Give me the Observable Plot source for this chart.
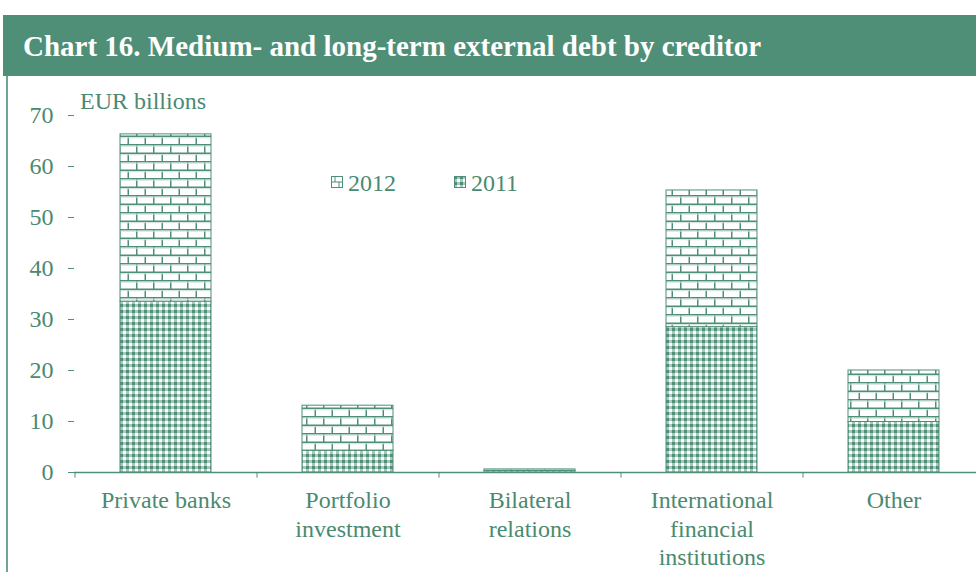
<!DOCTYPE html>
<html>
<head>
<meta charset="utf-8">
<script src="https://cdn.jsdelivr.net/npm/d3@7"></script>
<script src="https://cdn.jsdelivr.net/npm/@observablehq/plot@0.6"></script>
<style>
  html, body { margin: 0; padding: 0; background: #fff; font-family: 'Liberation Serif'; }
  #page { position: relative; width: 976px; height: 572px; overflow: hidden; font-family: 'Liberation Serif'; }
  #titlebar { position: absolute; left: 3px; top: 15px; width: 973px; height: 61px; background: #4f8f78; }
  #title { position: absolute; left: 20px; top: 0; line-height: 62px; color: #fff; font-weight: bold; font-size: 29px; white-space: nowrap; font-family: 'Liberation Serif'; }
  #border { position: absolute; left: 6px; top: 76px; width: 2px; height: 496px; background: #6fa591; }
  #unit { position: absolute; left: 80px; top: 89px; font-size: 24px; line-height: 24px; color: #4a8a70; font-family: 'Liberation Serif'; }
  #chart { position: absolute; left: 0; top: 76px; }
  .leg { position: absolute; font-size: 24px; line-height: 24px; color: #4a8a70; white-space: nowrap; font-family: 'Liberation Serif'; }
  .leg svg { position: absolute; left: 0; top: 5px; }
  .leg span { position: absolute; top: 0; }
</style>
</head>
<body>
<svg width="0" height="0" style="position:absolute">
  <defs>
    <pattern id="brick" patternUnits="userSpaceOnUse" width="17" height="17">
      <rect x="0" y="0" width="17" height="17" fill="#fff"/>
      <line x1="0" y1="0.75" x2="17" y2="0.75" stroke="#4f8f78" stroke-width="1.5"/>
      <line x1="0" y1="9.25" x2="17" y2="9.25" stroke="#4f8f78" stroke-width="1.5"/>
      <line x1="0.75" y1="0" x2="0.75" y2="9" stroke="#4f8f78" stroke-width="1.5"/>
      <line x1="9.25" y1="9" x2="9.25" y2="17" stroke="#4f8f78" stroke-width="1.5"/>
      <line x1="0" y1="2.2" x2="17" y2="2.2" stroke="#cfe2da" stroke-width="1"/>
      <line x1="0" y1="10.7" x2="17" y2="10.7" stroke="#cfe2da" stroke-width="1"/>
    </pattern>
    <pattern id="checker" patternUnits="userSpaceOnUse" width="6" height="6">
      <rect x="0" y="0" width="6" height="6" fill="#a6c9bb"/>
      <rect x="0" y="0" width="3" height="3" fill="#4f8f78"/>
      <rect x="3" y="3" width="3" height="3" fill="#fff"/>
    </pattern>
  </defs>
</svg>
<div id="page">
  <div id="titlebar"><div id="title">Chart 16. Medium- and long-term external debt by creditor</div></div>
  <div id="border"></div>
  <div id="unit">EUR billions</div>
  <div class="leg" style="left:331px; top:171px;">
    <svg width="12" height="12"><rect x="0.5" y="0.5" width="11" height="11" fill="#fff" stroke="#4f8f78"/><line x1="0" y1="6" x2="12" y2="6" stroke="#4f8f78"/><line x1="4" y1="0" x2="4" y2="6" stroke="#4f8f78"/><line x1="8" y1="6" x2="8" y2="12" stroke="#4f8f78"/></svg>
    <span style="left:17px">2012</span>
  </div>
  <div class="leg" style="left:454px; top:171px;">
    <svg width="12" height="12"><rect x="0.5" y="0.5" width="11" height="11" fill="url(#checker)" stroke="#4f8f78"/></svg>
    <span style="left:17px">2011</span>
  </div>
  <div id="chart"></div>
</div>
<script>
const categories = ["Private banks", "Portfolio\ninvestment", "Bilateral\nrelations", "International\nfinancial\ninstitutions", "Other"];
const years = ["2011", "2012"];
const values2011 = [33.5, 4.3, 0.3, 28.5, 9.9];
const values2012 = [32.8, 8.8, 0.3, 26.8, 10.1];
const yTicks = [0, 10, 20, 30, 40, 50, 60, 70];

const green = "#4f8f78";
const textGreen = "#4a8a70";

const data = categories.flatMap((c, i) => [
  {cat: c, year: "2011", value: values2011[i]},
  {cat: c, year: "2012", value: values2012[i]}
]);

const chart = Plot.plot({
  width: 976,
  height: 496,
  marginTop: 39,
  marginBottom: 100,
  marginLeft: 74,
  marginRight: 0,
  style: {fontFamily: "Liberation Serif", fontSize: "24px", color: textGreen, background: "transparent", overflow: "visible"},
  x: {type: "band", domain: categories, range: [74, 984], paddingInner: 0.5, paddingOuter: 0.25, label: null},
  y: {domain: [0, 70], label: null},
  color: {domain: years, range: ["url(#checker)", "url(#brick)"]},
  marks: [
    Plot.barY(data, Plot.stackY({x: "cat", y: "value", fill: "year", stroke: green, strokeWidth: 1})),
    Plot.ruleY([0], {stroke: green, strokeWidth: 1.5}),
    Plot.ruleX(categories, {x: d => d, dx: -91, y1: 0, y2: -1.1, stroke: green, strokeWidth: 1}),
    Plot.axisY({ticks: yTicks, tickSize: 6, tickPadding: 15, fontSize: 24, stroke: green, fill: textGreen, label: null, line: true}),
    Plot.axisX({tickSize: 0, tickPadding: 16, fontSize: 24, lineHeight: 1.17, fill: textGreen, label: null})
  ]
});
chart.querySelectorAll("text").forEach(t => t.setAttribute("font-family", "Liberation Serif"));
document.getElementById("chart").appendChild(chart);
</script>
</body>
</html>
